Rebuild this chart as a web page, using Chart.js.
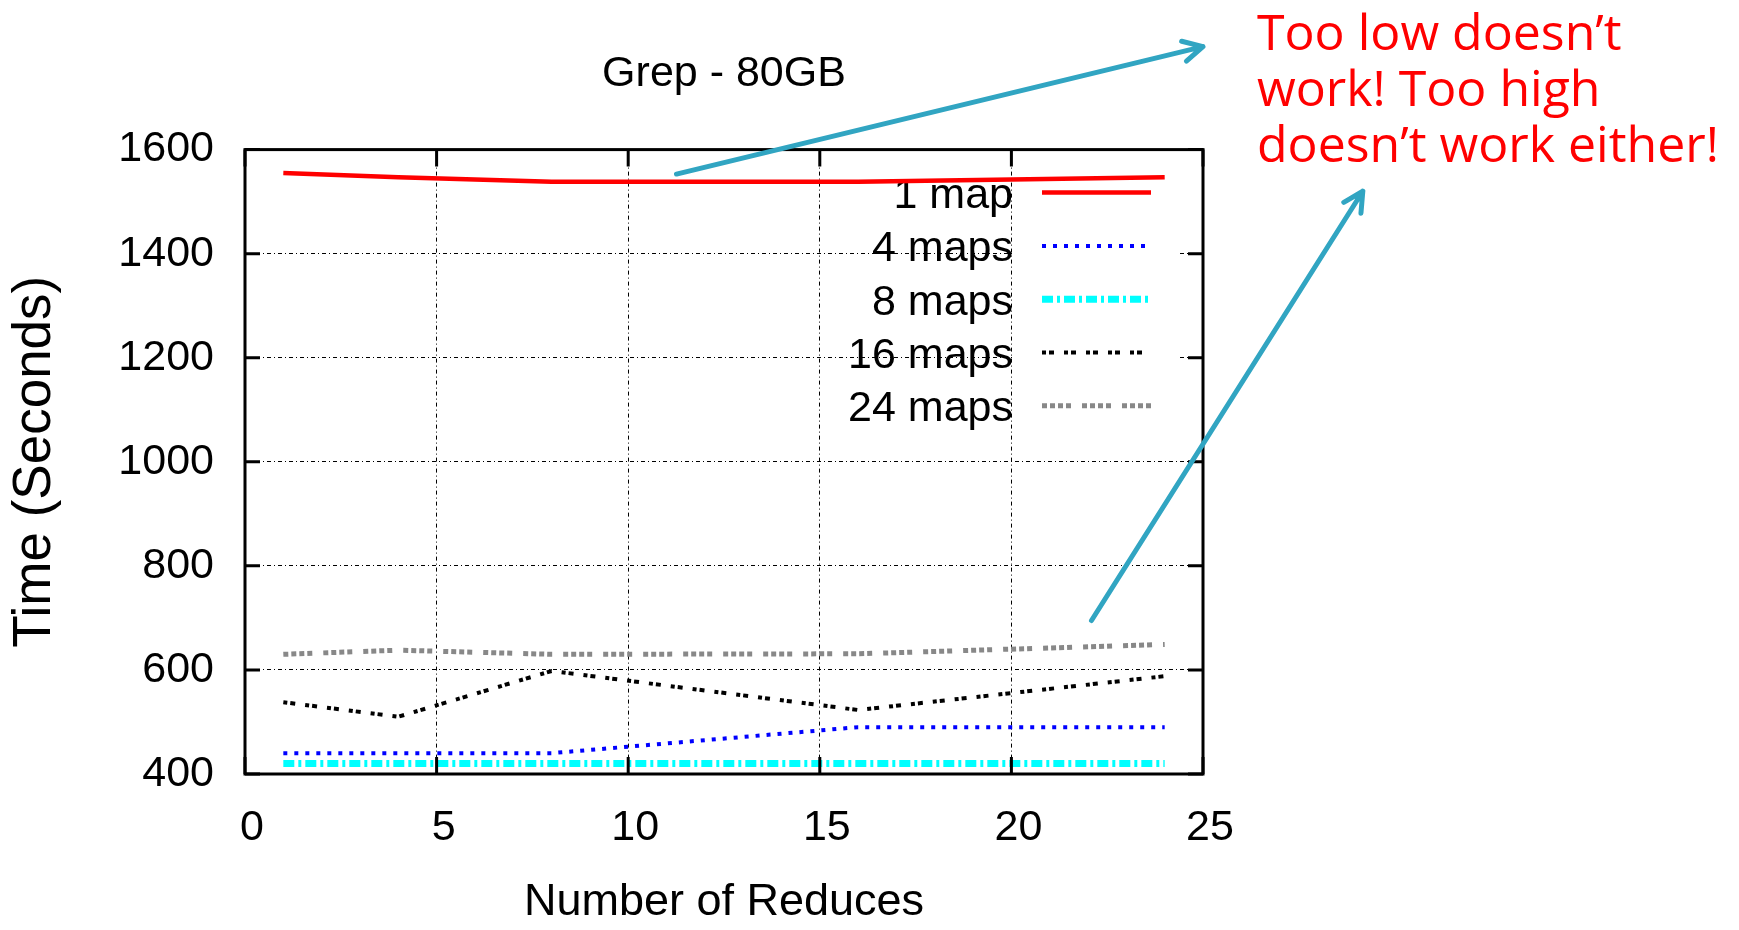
<!DOCTYPE html>
<html>
<head>
<meta charset="utf-8">
<title>Grep - 80GB</title>
<script src="https://cdn.jsdelivr.net/npm/chart.js@4.4.1/dist/chart.umd.min.js"></script>
<style>
html, body { margin: 0; padding: 0; background: #fff; }
</style>
</head>
<body>
<canvas id="grepChart" width="1739" height="930"></canvas>
<script>
// number of reduce tasks on the x axis
const reduces = [1, 4, 8, 16, 24];

// run times in seconds, one array per map count
const map1 = [1555, 1547, 1538, 1538, 1547];
const maps4 = [440, 440, 440, 490, 490];
const maps8 = [420, 420, 420, 420, 420];
const maps16 = [538, 510, 598, 523, 588];
const maps24 = [630, 638, 630, 631, 649];

const seriesLabels = ['1 map', '4 maps', '8 maps', '16 maps', '24 maps'];

// axis ticks
const xTicks = [0, 5, 10, 15, 20, 25];
const yTicks = [400, 600, 800, 1000, 1200, 1400, 1600];

// the red note and where its arrows start / point (in chart units)
const noteLines = ['Too low doesn\u2019t', 'work! Too high', 'doesn\u2019t work either!'];
const arrowFrom = [[11.26, 1553], [22.09, 695]];
const arrowTo = [[25.0, 1798], [29.17, 1520]];

const ctx = document.getElementById('grepChart').getContext('2d');

Chart.defaults.font.family = "'Liberation Sans', Arial, sans-serif";
Chart.defaults.font.size = 43;
Chart.defaults.color = '#000';

const lineLooks = [
    { color: '#ff0000', width: 4.5, dash: [] },
    { color: '#0000ff', width: 4, dash: [4, 7] },
    { color: '#00ffff', width: 7, dash: [11, 4, 3, 4] },
    { color: '#000000', width: 4, dash: [4, 3, 5, 10] },
    { color: '#888888', width: 5, dash: [5, 3, 5, 3, 5, 3, 5, 11] },
];

const allSeries = [map1, maps4, maps8, maps16, maps24];

const datasets = allSeries.map((values, i) => ({
    label: seriesLabels[i],
    data: reduces.map((r, j) => ({ x: r, y: values[j] })),
    borderColor: lineLooks[i].color,
    borderWidth: lineLooks[i].width,
    borderDash: lineLooks[i].dash,
    borderCapStyle: 'butt',
    pointRadius: 0,
    tension: 0,
    fill: false,
}));

// gnuplot style key: labels right aligned, sample line after them
const keyPlugin = {
    id: 'key',
    beforeDatasetsDraw(chart) {
        const { ctx, chartArea: a } = chart;
        const textRight = a.right - 190;
        const lineStart = textRight + 29;
        const lineEnd = textRight + 138;
        ctx.save();
        ctx.fillStyle = '#fff';
        ctx.fillRect(textRight, a.top + 16, a.right - 25 - textRight, 268);
        chart.data.datasets.forEach((ds, i) => {
            const cy = a.top + 43 + i * 53.3;
            ctx.font = "43px 'Liberation Sans', Arial, sans-serif";
            ctx.fillStyle = '#000';
            ctx.textAlign = 'right';
            ctx.textBaseline = 'alphabetic';
            ctx.fillText(ds.label, textRight, cy + 15.5);
            ctx.strokeStyle = ds.borderColor;
            ctx.lineWidth = ds.borderWidth;
            ctx.lineCap = 'butt';
            ctx.setLineDash(ds.borderDash);
            ctx.beginPath();
            ctx.moveTo(lineStart, cy);
            ctx.lineTo(lineEnd, cy);
            ctx.stroke();
        });
        ctx.restore();
    }
};

// box round the plot with inward tick marks
const framePlugin = {
    id: 'frame',
    afterDatasetsDraw(chart) {
        const { ctx, chartArea: a, scales: { x, y } } = chart;
        ctx.save();
        ctx.strokeStyle = '#000';
        ctx.lineWidth = 3;
        ctx.strokeRect(a.left, a.top, a.right - a.left, a.bottom - a.top);
        ctx.beginPath();
        x.ticks.forEach(t => {
            const px = x.getPixelForValue(t.value);
            ctx.moveTo(px, a.bottom);
            ctx.lineTo(px, a.bottom - 17);
            ctx.moveTo(px, a.top);
            ctx.lineTo(px, a.top + 17);
        });
        y.ticks.forEach(t => {
            const py = y.getPixelForValue(t.value);
            ctx.moveTo(a.left, py);
            ctx.lineTo(a.left + 15, py);
            ctx.moveTo(a.right, py);
            ctx.lineTo(a.right - 15, py);
        });
        ctx.stroke();
        ctx.restore();
    }
};

// red note plus the two teal arrows
const notePlugin = {
    id: 'note',
    afterDraw(chart) {
        const { ctx, chartArea: a, scales: { x, y } } = chart;
        ctx.save();
        ctx.strokeStyle = '#31a5c2';
        ctx.lineWidth = 5;
        ctx.lineCap = 'round';
        ctx.lineJoin = 'round';
        arrowFrom.forEach((from, i) => {
            const x0 = x.getPixelForValue(from[0]);
            const y0 = y.getPixelForValue(from[1]);
            const x1 = x.getPixelForValue(arrowTo[i][0]);
            const y1 = y.getPixelForValue(arrowTo[i][1]);
            const ang = Math.atan2(y1 - y0, x1 - x0);
            const head = 22;
            ctx.beginPath();
            ctx.moveTo(x0, y0);
            ctx.lineTo(x1, y1);
            ctx.moveTo(x1 - head * Math.cos(ang - 0.48), y1 - head * Math.sin(ang - 0.48));
            ctx.lineTo(x1, y1);
            ctx.lineTo(x1 - head * Math.cos(ang + 0.48), y1 - head * Math.sin(ang + 0.48));
            ctx.stroke();
        });
        ctx.fillStyle = '#ff0000';
        ctx.font = "50px 'Open Sans', 'Noto Sans', sans-serif";
        ctx.textAlign = 'left';
        ctx.textBaseline = 'alphabetic';
        noteLines.forEach((line, i) => {
            ctx.fillText(line, a.right + 54, 50 + i * 56);
        });
        ctx.restore();
    }
};

const gridLook = {
    color: '#000',
    lineWidth: 1,
    drawTicks: false,
};

const config = {
    type: 'line',
    data: { datasets: datasets },
    options: {
        responsive: false,
        devicePixelRatio: 1,
        animation: false,
        layout: {
            padding: { left: 0, right: 291, top: 0, bottom: 0 }
        },
        plugins: {
            legend: { display: false },
            tooltip: { enabled: false },
            title: {
                display: true,
                text: 'Grep - 80GB',
                color: '#000',
                font: { size: 43, weight: 'normal' },
                padding: { top: 48, bottom: 50 },
            },
        },
        scales: {
            x: {
                type: 'linear',
                min: xTicks[0],
                max: xTicks[xTicks.length - 1],
                afterBuildTicks: (scale) => { scale.ticks = xTicks.map(v => ({ value: v })); },
                afterFit: (scale) => { scale.height = 156; },
                grid: gridLook,
                border: { display: false, dash: [4, 3, 1, 3] },
                ticks: { padding: 28, labelOffset: 7, maxRotation: 0, autoSkip: false },
                title: {
                    display: true,
                    text: 'Number of Reduces',
                    font: { size: 45 },
                    padding: { top: 0, bottom: 0 },
                },
            },
            y: {
                type: 'linear',
                min: yTicks[0],
                max: yTicks[yTicks.length - 1],
                afterBuildTicks: (scale) => { scale.ticks = yTicks.map(v => ({ value: v })); },
                afterFit: (scale) => { scale.width = 245; },
                grid: gridLook,
                border: { display: false, dash: [4, 3, 1, 3] },
                ticks: {
                    padding: 31,
                    autoSkip: false,
                    callback: (value) => String(value),
                },
                title: {
                    display: true,
                    text: 'Time (Seconds)',
                    font: { size: 53 },
                    padding: { top: 4, bottom: 0 },
                },
            },
            // empty right-hand strip so the title centres over the plot
            yRight: {
                type: 'linear',
                position: 'right',
                min: yTicks[0],
                max: yTicks[yTicks.length - 1],
                afterFit: (scale) => { scale.width = 245; },
                grid: { display: false },
                border: { display: false },
                ticks: { display: false },
            },
        },
    },
    plugins: [keyPlugin, framePlugin, notePlugin],
};

const grepChart = new Chart(ctx, config);
</script>
</body>
</html>
